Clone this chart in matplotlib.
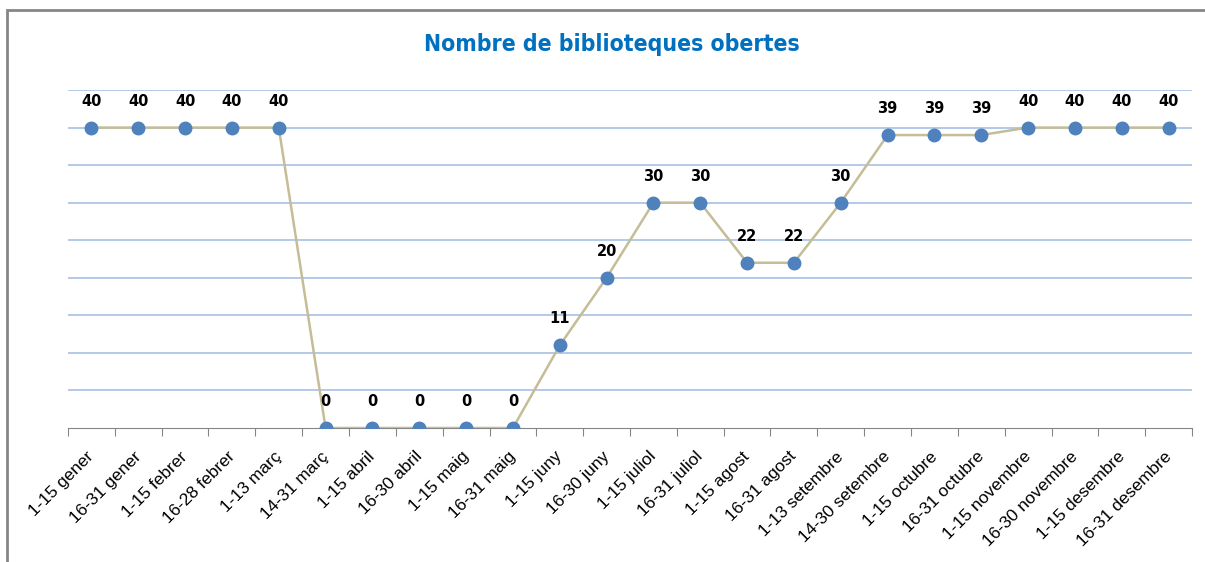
import numpy as np
import matplotlib.pyplot as plt
from matplotlib.patches import Rectangle
from matplotlib.transforms import ScaledTranslation

periods = ['1-15 gener', '16-31 gener', '1-15 febrer', '16-28 febrer', '1-13 març',
           '14-31 març', '1-15 abril', '16-30 abril', '1-15 maig', '16-31 maig',
           '1-15 juny', '16-30 juny', '1-15 juliol', '16-31 juliol', '1-15 agost',
           '16-31 agost', '1-13 setembre', '14-30 setembre', '1-15 octubre',
           '16-31 octubre', '1-15 novembre', '16-30 novembre', '1-15 desembre',
           '16-31 desembre']
open_libraries = [40, 40, 40, 40, 40, 0, 0, 0, 0, 0, 11, 20, 30, 30, 22, 22, 30,
                  39, 39, 39, 40, 40, 40, 40]

W, H = 1205, 562
fig = plt.figure(figsize=(W / 100, H / 100), dpi=100)

# outer chart border (partly cut off in the original)
fig.patches.append(Rectangle((7 / W, -0.05), 1.1, 1 - 10 / H + 0.05, transform=fig.transFigure,
                             fill=False, edgecolor='#868686', linewidth=2))

ax = fig.add_axes([68 / W, 1 - 428 / H, (1192 - 68) / W, (428 - 90) / H])
x = np.arange(len(periods))

ax.plot(x, open_libraries, color='#C4BD97', linewidth=1.8, zorder=3)
ax.plot(x, open_libraries, 'o', color='#4F81BD', markersize=9, zorder=4)

for xi, v in zip(x, open_libraries):
    ax.annotate(str(v), (xi, v), xytext=(0, 19), textcoords='offset points',
                ha='center', va='center', fontsize=10.5, fontweight='bold', color='black')

ax.set_xlim(-0.5, len(periods) - 0.5)
ax.set_ylim(0, 45)
ax.set_yticks(np.arange(5, 50, 5))
ax.yaxis.grid(True, color='#A7BFE4', linewidth=1.2)
ax.set_axisbelow(True)
ax.tick_params(axis='y', left=False, labelleft=False)

# ticks between categories, labels at category centres
ax.set_xticks(np.arange(-0.5, len(periods), 1))
ax.tick_params(axis='x', which='major', length=6, color='#868686', labelbottom=False)
ax.set_xticks(x, minor=True)
ax.set_xticklabels(periods, minor=True, rotation=45, ha='right', va='top',
                   rotation_mode='anchor', fontsize=12.5, family='Liberation Sans')
ax.tick_params(axis='x', which='minor', length=0, pad=15)
shift = ScaledTranslation(-5 / 100, 0, fig.dpi_scale_trans)
for lab in ax.get_xticklabels(minor=True):
    lab.set_transform(lab.get_transform() + shift)

for side in ['left', 'right', 'top']:
    ax.spines[side].set_visible(False)
ax.spines['bottom'].set_color('#868686')

fig.text(612 / W, 1 - 45 / H, 'Nombre de biblioteques obertes', ha='center', va='center',
         fontsize=16.5, fontweight='heavy', fontstretch='condensed', color='#0070C0',
         family=['DejaVu Sans'])

fig.savefig('out.png', dpi=100)
